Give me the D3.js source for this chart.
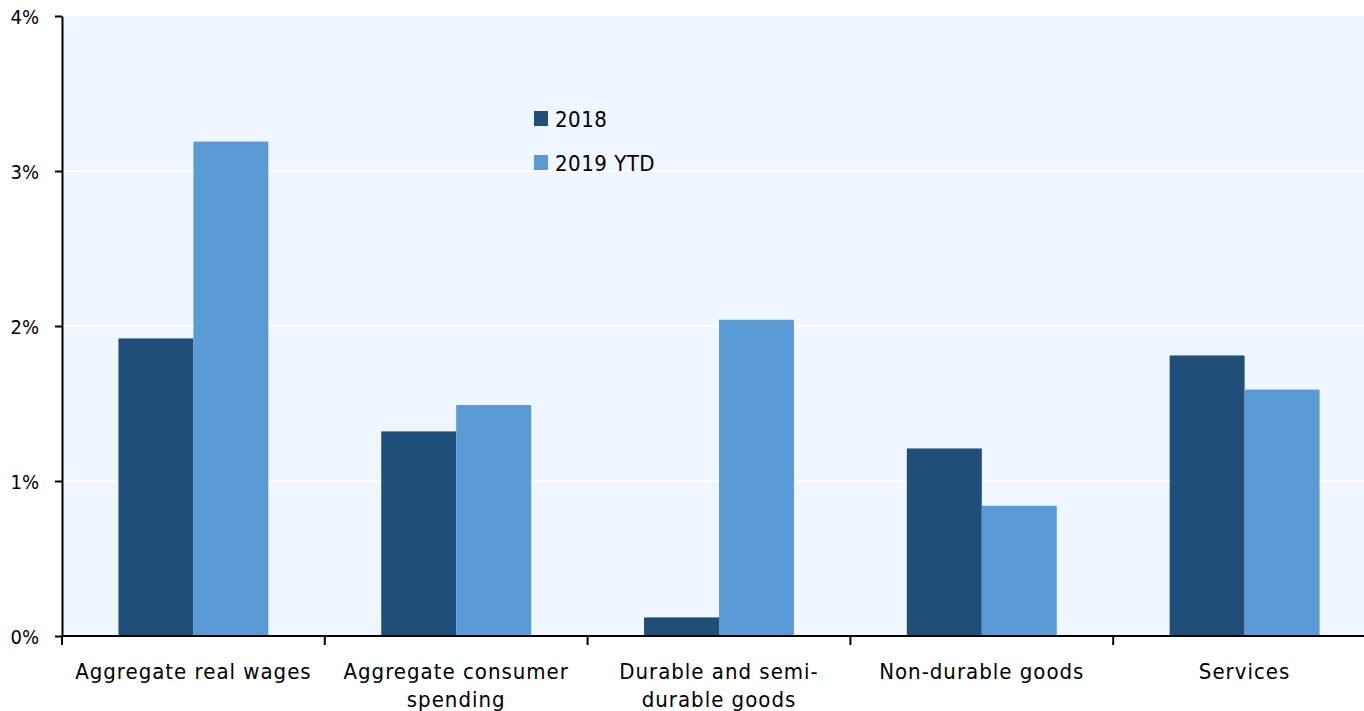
<!DOCTYPE html>
<html>
<head>
<meta charset="utf-8">
<script src="https://cdn.jsdelivr.net/npm/d3@7"></script>
<style>
  html, body { margin: 0; padding: 0; background: #ffffff; overflow: hidden; }
  svg { display: block; }
  text { font-family: "DejaVu Sans Condensed", "DejaVu Sans", sans-serif; fill: #000; }
</style>
</head>
<body>
<svg id="chart" width="1364" height="711"></svg>
<script>
// Growth rates by category, percent
const categories = [
  ["Aggregate real wages"],
  ["Aggregate consumer", "spending"],
  ["Durable and semi-", "durable goods"],
  ["Non-durable goods"],
  ["Services"]
];
const seriesNames = ["2018", "2019 YTD"];
const values2018 = [1.92, 1.32, 0.12, 1.21, 1.81];
const values2019 = [3.19, 1.49, 2.04, 0.84, 1.59];
const yTicks = [0, 1, 2, 3, 4];
const colors = ["#1f4e79", "#5b9bd5"];

const svg = d3.select("#chart");
const plot = { left: 62, top: 16, bottom: 636, right: 1376 };

const keys = categories.map(c => c.join(" "));
const x0 = d3.scaleBand().domain(keys).range([plot.left, plot.right]).paddingInner(0).paddingOuter(0);
const x1 = d3.scaleBand().domain(seriesNames).range([0, x0.bandwidth()]).paddingInner(0).paddingOuter(0.753);
const y = d3.scaleLinear().domain([0, 4]).range([plot.bottom, plot.top]);

// plot background
svg.append("rect")
  .attr("x", plot.left).attr("y", plot.top)
  .attr("width", plot.right - plot.left).attr("height", plot.bottom - plot.top)
  .attr("fill", "#eff6fd");

// horizontal gridlines
svg.append("g").selectAll("line")
  .data(yTicks.filter(t => t > 0 && t < 4))
  .join("line")
  .attr("x1", plot.left).attr("x2", plot.right)
  .attr("y1", d => y(d)).attr("y2", d => y(d))
  .attr("stroke", "#ffffff").attr("stroke-width", 2);

// bars
const rows = keys.map((k, i) => ({ key: k, vals: [values2018[i], values2019[i]] }));
svg.append("g").selectAll("g")
  .data(rows)
  .join("g")
  .attr("transform", d => `translate(${x0(d.key)},0)`)
  .selectAll("rect")
  .data(d => d.vals.map((v, j) => ({ name: seriesNames[j], v, j })))
  .join("rect")
  .attr("x", d => x1(d.name))
  .attr("width", x1.bandwidth())
  .attr("y", d => y(d.v))
  .attr("height", d => y(0) - y(d.v))
  .attr("fill", d => colors[d.j]);

// y axis
const yAxis = svg.append("g")
  .attr("transform", `translate(${plot.left},0)`)
  .call(d3.axisLeft(y).tickValues(yTicks).tickFormat(d => d + "%").tickSize(7).tickSizeOuter(0));
yAxis.select(".domain").attr("stroke", "#000").attr("stroke-width", 2);
yAxis.selectAll(".tick line").attr("stroke", "#000").attr("stroke-width", 2);
yAxis.selectAll(".tick text")
  .attr("x", -23).attr("dy", "0.36em")
  .style("font-size", "20px").style("font-family", "\"DejaVu Sans Condensed\", \"DejaVu Sans\", sans-serif");

// x axis baseline and category boundary ticks
svg.append("line")
  .attr("x1", plot.left).attr("x2", plot.right)
  .attr("y1", y(0)).attr("y2", y(0))
  .attr("stroke", "#000").attr("stroke-width", 2);
const boundaries = keys.map(k => x0(k)).concat([plot.right]);
svg.append("g").selectAll("line")
  .data(boundaries)
  .join("line")
  .attr("x1", d => d).attr("x2", d => d)
  .attr("y1", y(0)).attr("y2", y(0) + 9)
  .attr("stroke", "#000").attr("stroke-width", 2);

// category labels
const lab = svg.append("g").selectAll("text")
  .data(categories)
  .join("text")
  .attr("text-anchor", "middle")
  .attr("x", (d, i) => x0(keys[i]) + x0.bandwidth() / 2)
  .attr("y", 679)
  .style("font-size", "22px")
  .style("letter-spacing", "1px");
lab.selectAll("tspan")
  .data(d => d)
  .join("tspan")
  .attr("x", function () { return d3.select(this.parentNode).attr("x"); })
  .attr("dy", (d, i) => i === 0 ? 0 : 28)
  .text(d => d);

// legend
const legend = svg.append("g").selectAll("g")
  .data(seriesNames)
  .join("g")
  .attr("transform", (d, i) => `translate(534,${111 + i * 44})`);
legend.append("rect").attr("width", 14).attr("height", 15).attr("fill", (d, i) => colors[i]);
legend.append("text").attr("x", 21).attr("y", 16)
  .style("font-size", "22px").style("letter-spacing", "0.5px").text(d => d);
</script>
</body>
</html>
